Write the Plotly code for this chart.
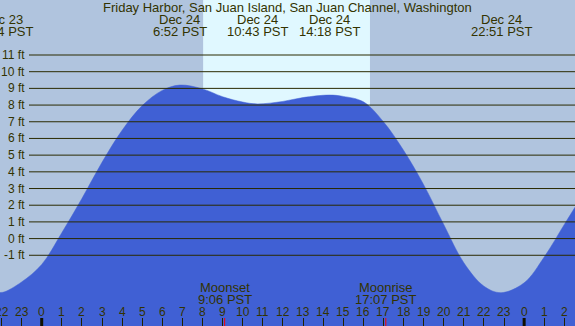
import plotly.graph_objects as go

# ---- data ----
tide_hours = [-2.2, -1.93, -1, 0, 1, 2, 3, 4, 5, 6, 6.87, 8, 9, 10, 10.72, 12, 13,
              14.3, 15, 16, 17, 18, 19, 20, 21, 22, 22.85, 24, 25, 26, 26.7]
tide_ft = [-3.2, -3.22, -2.6, -1.55, 0.35, 2.4, 4.57, 6.49, 7.97, 8.88, 9.2, 8.97, 8.5,
           8.18, 8.07, 8.22, 8.45, 8.6, 8.52, 8.2, 7.0, 5.29, 3.23, 0.84, -1.45, -2.85,
           -3.24, -2.65, -1.1, 0.85, 2.2]

extreme_hours = [-1.93, 6.87, 10.72, 14.3, 22.85]
extreme_dates = ["Dec 23", "Dec 24", "Dec 24", "Dec 24", "Dec 24"]
extreme_times = ["22:04 PST", "6:52 PST", "10:43 PST", "14:18 PST", "22:51 PST"]

moon_hours = [9.1, 17.117]
moon_names = ["Moonset", "Moonrise"]
moon_times = ["9:06 PST", "17:07 PST"]

sunrise_hour = 8.03
sunset_hour = 16.33

hour_ticks = list(range(-2, 27))
hour_labels = [str(h % 24) for h in hour_ticks]

ft_levels = list(range(-1, 12))
ft_labels = [f"{v} ft" for v in ft_levels]

title = "Friday Harbor, San Juan Island, San Juan Channel, Washington"

# ---- layout constants ----
W, H = 575, 326
XMIN, XMAX = -2.075, 26.53
YMIN, YMAX = -5.237, 14.295
TXT = "#333300"
FONT = "Liberation Sans, Arial, sans-serif"


def py(px):
    return 1 - px / H


fig = go.Figure()
fig.add_trace(go.Scatter(x=[XMIN - 1, XMAX + 1], y=[YMIN - 1, YMIN - 1], mode="lines",
                         line=dict(width=0), hoverinfo="skip", showlegend=False))
fig.add_trace(go.Scatter(x=tide_hours, y=tide_ft, mode="lines", fill="tonexty",
                         fillcolor="#4060D4", line=dict(color="#4060D4", width=0.5, shape="spline"),
                         showlegend=False))

shapes = []
# daylight band
shapes.append(dict(type="rect", xref="x", yref="paper", x0=sunrise_hour, x1=sunset_hour,
                   y0=0, y1=1, fillcolor="#E0F8FF", line=dict(width=0), layer="below"))
# horizontal level lines
for v in ft_levels:
    shapes.append(dict(type="line", xref="paper", yref="y", x0=29 / W, x1=1, y0=v, y1=v,
                       line=dict(color="#2A2A00", width=1), layer="above"))
# thick midnight ticks
for h in [0, 24]:
    shapes.append(dict(type="line", xref="x", yref="paper", x0=h, x1=h, y0=0, y1=8 / H,
                       line=dict(color="#111100", width=3), layer="above"))
# moon ticks
for h in moon_hours:
    shapes.append(dict(type="line", xref="x", yref="paper", x0=h, x1=h, y0=0, y1=8 / H,
                       line=dict(color="#FF0000", width=1), layer="above"))

ann = []
ann.append(dict(text=title, xref="paper", yref="paper", x=0.5, y=py(8), showarrow=False,
                xanchor="center", yanchor="middle", font=dict(size=13, color=TXT)))
for h, d, t in zip(extreme_hours, extreme_dates, extreme_times):
    ann.append(dict(text=d, xref="x", yref="paper", x=h, y=py(19.5), showarrow=False,
                    xanchor="center", yanchor="middle", font=dict(size=13, color=TXT)))
    ann.append(dict(text=t, xref="x", yref="paper", x=h, y=py(31.7), showarrow=False,
                    xanchor="center", yanchor="middle", font=dict(size=13, color=TXT)))
for h, n, t in zip(moon_hours, moon_names, moon_times):
    ann.append(dict(text=n, xref="x", yref="paper", x=h, y=py(287.3), showarrow=False,
                    xanchor="center", yanchor="middle", font=dict(size=13, color=TXT)))
    ann.append(dict(text=t, xref="x", yref="paper", x=h, y=py(299.3), showarrow=False,
                    xanchor="center", yanchor="middle", font=dict(size=13, color=TXT)))
for h, lab in zip(hour_ticks, hour_labels):
    ann.append(dict(text=lab, xref="x", yref="paper", x=h, y=py(311.7), showarrow=False,
                    xanchor="center", yanchor="middle", font=dict(size=12, color=TXT)))
for v, lab in zip(ft_levels, ft_labels):
    ann.append(dict(text=lab, xref="paper", yref="y", x=27 / W, y=v, showarrow=False,
                    xanchor="right", yanchor="middle", font=dict(size=12, color=TXT)))

fig.update_layout(
    width=W, height=H, margin=dict(l=0, r=0, t=0, b=0),
    plot_bgcolor="#B0C4DE", paper_bgcolor="#B0C4DE",
    font=dict(family=FONT, color=TXT),
    shapes=shapes, annotations=ann, showlegend=False,
    xaxis=dict(range=[XMIN, XMAX], showgrid=False, zeroline=False, showticklabels=False,
               ticks="inside", ticklen=8, tickwidth=1, tickcolor="#222200",
               tick0=0, dtick=1, fixedrange=True),
    yaxis=dict(range=[YMIN, YMAX], showgrid=False, zeroline=False, showticklabels=False,
               ticks="", fixedrange=True),
)

fig.write_html("out.html", config={"displayModeBar": False},
               post_script="document.body.style.margin='0';document.body.style.overflow='hidden';")
